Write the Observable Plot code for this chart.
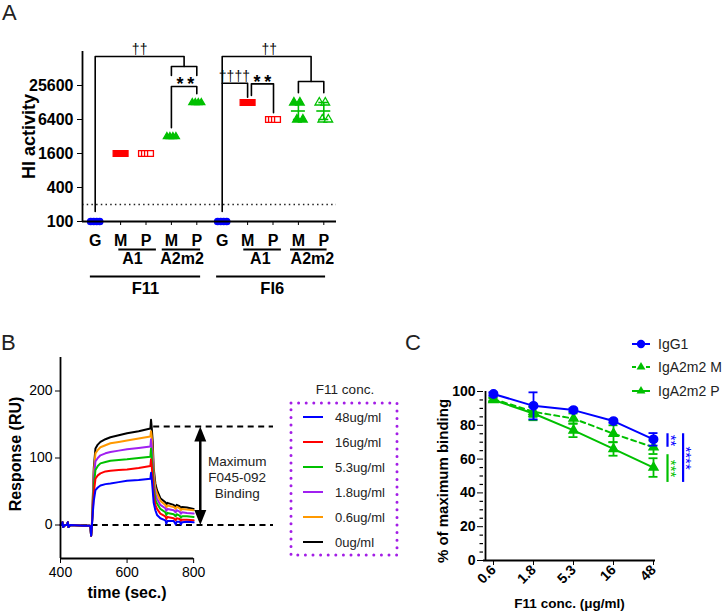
<!DOCTYPE html>
<html>
<head>
<meta charset="utf-8">
<script src="https://cdn.jsdelivr.net/npm/d3@7"></script>
<script src="https://cdn.jsdelivr.net/npm/@observablehq/plot@0.6"></script>
<style>
  html, body { margin: 0; padding: 0; background: #fff; }
  #wrap { position: relative; width: 723px; height: 616px; overflow: hidden; font-family: "Liberation Sans", Arial, Helvetica, sans-serif; }
  .panel { position: absolute; }
  .panel svg { overflow: visible; }
</style>
</head>
<body>
<div id="wrap"></div>
<script>
// ================= DATA =================
// Panel A : HI activity (log2 scale)
const hiPositions   = [1, 2, 3, 4, 5, 6, 7, 8, 9, 10];
const hiTickLabels  = ["G", "M", "P", "M", "P", "G", "M", "P", "M", "P"];
const hiColors      = ["#0000ff", "#ff0000", "#ff0000", "#00c000", "#00c000", "#0000ff", "#ff0000", "#ff0000", "#00c000", "#00c000"];
const hiSymbols     = ["circle", "square", "square", "triangle", "triangle", "circle", "square", "square", "triangle", "triangle"];
const hiOpen        = [false, false, true, false, false, false, false, true, false, true];
const hiReplicates  = [
  [100, 100, 100, 100],
  [1600, 1600, 1600, 1600],
  [1600, 1600, 1600, 1600],
  [3200, 3200, 3200, 3200],
  [12800, 12800, 12800, 12800],
  [100, 100, 100, 100],
  [12800, 12800, 12800, 12800],
  [6400, 6400, 6400, 6400],
  [12800, 6400, 12800, 6400],
  [12800, 6400, 12800, 6400]
];
const hiYTicks   = [100, 400, 1600, 6400, 25600];
const hiLimit    = [200];
const hiSummary  = [
  {pos: 9, mean: 9050, lo: 6400, hi: 12800},
  {pos: 10, mean: 9050, lo: 6400, hi: 12800}
];
const hiBrackets = [
  {id: "f11top",  pts: [[1, 150], [1, 83500], [4.5, 83500], [4.5, 55600]]},
  {id: "f11sub",  pts: [[4, 38500], [4, 55600], [5, 55600], [5, 38500]]},
  {id: "f11star", pts: [[4, 4560], [4, 24600], [5, 24600], [5, 18250]]},
  {id: "fi6top",  pts: [[6, 150], [6, 83500], [9.5, 83500], [9.5, 30100]]},
  {id: "fi6sub",  pts: [[9, 19000], [9, 30100], [10, 30100], [10, 19000]]},
  {id: "fi6dag",  pts: [[6, 28100], [7, 28100], [7, 15900]]},
  {id: "fi6star", pts: [[7.15, 17000], [7.15, 27400], [8.02, 27400], [8.02, 8410]]}
];
const hiDaggers  = [
  {x: 2.75, y: 83500, label: "††"},
  {x: 7.85, y: 83500, label: "††"},
  {x: 6.48, y: 28100, label: "††††"}
];
const hiStars    = [
  {x: 4.55, y: 24600, label: "*\u2009*"},
  {x: 7.58, y: 27400, label: "*\u2009*"}
];
const hiSubLines  = [{from: 1.93, to: 3.41}, {from: 3.64, to: 5.15}, {from: 6.85, to: 8.33}, {from: 8.69, to: 10.13}];
const hiSubLabels = [{x: 2.47, label: "A1"}, {x: 4.42, label: "A2m2"}, {x: 7.5, label: "A1"}, {x: 9.55, label: "A2m2"}];
const hiGroupLines  = [{from: 0.81, to: 5.15}, {from: 5.78, to: 10.07}];
const hiGroupLabels = [{x: 2.98, label: "F11"}, {x: 7.97, label: "FI6"}];

// Panel B : sensorgrams
const bConcLabels = ["48ug/ml", "16ug/ml", "5.3ug/ml", "1.8ug/ml", "0.6ug/ml", "0ug/ml"];
const bColors     = ["#0000ff", "#ff0000", "#00c000", "#a020f0", "#ff9900", "#000000"];
const bBaseTime   = [400, 404, 406, 408, 414, 420, 422, 424, 430, 470, 488, 490, 492, 494];
const bBaseValue  = [0, 0, 4, -3, 0, 0, 4, -3, 0, -1, -1, -3, -16, -4];
const bKinTime    = [497, 500, 505, 512, 520, 535, 550, 575, 600, 635, 670, 672, 674, 677, 680, 685, 690, 700, 715, 718, 721, 740, 746, 749, 758, 762, 765, 780, 800];
const bConc48  = [18, 36, 52, 56, 59, 61, 62, 64, 66, 67, 69, 78, 70, 52, 33, 22, 15, 10, 7, 2, 6, 6, 1, 5, 5, 1, 4, 5, 4];
const bConc16  = [22, 48, 69, 74, 77, 80, 81, 82, 83, 85, 88, 98, 89, 68, 44, 30, 24, 17, 13, 9, 12, 10, 7, 10, 9, 6, 8, 8, 7];
const bConc5_3 = [26, 58, 82, 88, 92, 94, 96, 97, 98, 100, 102, 114, 103, 82, 55, 38, 32, 24, 19, 15, 18, 16, 13, 16, 14, 11, 13, 13, 12];
const bConc1_8 = [30, 68, 95, 100, 104, 107, 109, 111, 113, 115, 117, 128, 118, 95, 65, 46, 39, 30, 25, 21, 24, 22, 19, 22, 20, 17, 19, 18, 17];
const bConc0_6 = [35, 78, 107, 112, 116, 119, 122, 124, 126, 129, 132, 140, 133, 110, 78, 55, 47, 36, 30, 26, 29, 27, 24, 27, 25, 22, 24, 23, 22];
const bConc0   = [40, 85, 114, 120, 124, 128, 131, 134, 137, 140, 144, 157, 146, 125, 85, 62, 52, 40, 34, 30, 33, 30, 27, 30, 28, 25, 27, 26, 24];
const bYTicks = [0, 100, 200];
const bXTicks = [400, 600, 800];
const bMaxBinding = 147;
const bArrowTime = 820;

// Panel C : % of maximum binding
const cConc    = ["0.6", "1.8", "5.3", "16", "48"];
const cSeries  = ["IgG1", "IgA2m2 M", "IgA2m2 P"];
const cIgG1    = [98.5, 91.5, 89, 82.5, 71.7];
const cIgG1Err = [1, 8, 1, 1, 3.7];
const cA2m2M    = [95.5, 88, 84, 75, 67];
const cA2m2MErr = [1, 3, 3, 5, 4];
const cA2m2P    = [95, 87, 77, 66, 55];
const cA2m2PErr = [1, 4, 4, 4, 5.5];
const cYTicks  = [0, 20, 40, 60, 80, 100];
const cMinorTicks = [5, 10, 15, 25, 30, 35, 45, 50, 55, 65, 70, 75, 85, 90, 95];
const cSigShortBlue = [{y1: 75, y2: 67, label: "**"}];
const cSigGreen     = [{y1: 62.6, y2: 46.2, label: "***"}];
const cSigLongBlue  = [{y1: 75, y2: 46.2, label: "****"}];

// ================= RENDER =================
const FONT = '"Liberation Sans", Arial, Helvetica, sans-serif';
const BLUE = "#0000ff", GREEN = "#00c000";
const wrap = document.getElementById("wrap");
function place(node, left, top) {
  const d = document.createElement("div");
  d.className = "panel";
  d.style.left = left + "px";
  d.style.top = top + "px";
  d.appendChild(node);
  wrap.appendChild(d);
}

// ---------- Panel A ----------
const repOffsets = [-4.5, -1.5, 1.5, 4.5];
const hiRows = [];
hiReplicates.forEach((reps, g) => reps.forEach((v, r) => hiRows.push({
  pos: hiPositions[g], value: v, rep: r, color: hiColors[g], symbol: hiSymbols[g], open: hiOpen[g],
  size: (g === 8 || g === 9) ? 3.2 : (hiSymbols[g] === "square" ? 3.3 : (hiSymbols[g] === "triangle" ? 2.6 : 3.2))
})));
const bracketRows = hiBrackets.flatMap(b => b.pts.map(p => ({id: b.id, x: p[0], y: p[1]})));

const repMarks = repOffsets.map((off, r) => Plot.dot(hiRows.filter(d => d.rep === r), {
  x: "pos", y: "value", dx: off, symbol: "symbol", r: "size",
  fill: d => d.open ? "#ffffff" : d.color, stroke: "color", strokeWidth: 1.3
}));

const plotA = Plot.plot({
  width: 345, height: 330,
  marginLeft: 82, marginRight: 9, marginTop: 51, marginBottom: 109,
  style: {fontFamily: FONT, fontSize: "16px", fontWeight: "bold", color: "#000", background: "transparent", overflow: "visible"},
  x: {domain: [0.5, 10.5], ticks: hiPositions, tickFormat: i => hiTickLabels[i - 1], tickSize: 4, tickPadding: 9, label: null},
  y: {type: "log", base: 2, domain: [100, 102400], ticks: hiYTicks, tickFormat: d => String(d), tickSize: 5, tickPadding: 4, label: null},
  r: {type: "identity"},
  marks: [
    Plot.ruleY(hiLimit, {stroke: "#222", strokeWidth: 1.3, strokeDasharray: "1.5,3.2"}),
    Plot.line(bracketRows, {x: "x", y: "y", z: "id", stroke: "#000", strokeWidth: 1.6}),
    Plot.text(hiDaggers, {x: "x", y: "y", text: "label", dy: -7, fontSize: 14, fontWeight: "normal", fill: "#000", fillOpacity: 0.99}),
    Plot.text(hiStars, {x: "x", y: "y", text: "label", dy: -2, fontSize: 18, fontWeight: "bold", fill: "#000"}),
    ...repMarks,
    Plot.ruleX(hiSummary, {x: "pos", y1: "lo", y2: "hi", stroke: GREEN, strokeWidth: 1.6}),
    Plot.ruleY(hiSummary, {x1: "pos", x2: "pos", y: "mean", stroke: GREEN, strokeWidth: 1.6, insetLeft: -7, insetRight: -7}),
    Plot.ruleY(hiSummary, {x1: "pos", x2: "pos", y: "lo", stroke: GREEN, strokeWidth: 1.6, insetLeft: -5, insetRight: -5}),
    Plot.ruleY(hiSummary, {x1: "pos", x2: "pos", y: "hi", stroke: GREEN, strokeWidth: 1.6, insetLeft: -5, insetRight: -5}),
    Plot.ruleX([0.5], {stroke: "#000", strokeWidth: 1.8}),
    Plot.ruleY([100], {stroke: "#000", strokeWidth: 1.8}),
    Plot.ruleY(hiSubLines, {x1: "from", x2: "to", y: () => 100, dy: 28, stroke: "#000", strokeWidth: 1.8}),
    Plot.text(hiSubLabels, {x: "x", frameAnchor: "bottom", dy: 42, text: "label", fontSize: 16, fontWeight: "bold", fill: "#000"}),
    Plot.ruleY(hiGroupLines, {x1: "from", x2: "to", y: () => 100, dy: 55, stroke: "#000", strokeWidth: 1.8}),
    Plot.text(hiGroupLabels, {x: "x", frameAnchor: "bottom", dy: 72, text: "label", fontSize: 16.5, fontWeight: "bold", fill: "#000"}),
    Plot.text(["HI activity"], {frameAnchor: "left", textAnchor: "middle", dx: -53, rotate: -90, text: d => d, fontSize: 18, fontWeight: "bold", fill: "#000"})
  ]
});
place(plotA, 0, 0);

// ---------- Panel B ----------
const bSeries = [bConc48, bConc16, bConc5_3, bConc1_8, bConc0_6, bConc0];
const bRows = [];
bConcLabels.forEach((c, i) => {
  bBaseTime.forEach((t, j) => bRows.push({t, v: bBaseValue[j], conc: c, color: bColors[i]}));
  bKinTime.forEach((t, j) => bRows.push({t, v: bSeries[i][j], conc: c, color: bColors[i]}));
});
const bLineMarks = bConcLabels.slice().reverse().map(c => Plot.line(bRows.filter(d => d.conc === c), {
  x: "t", y: "v", stroke: "color", strokeWidth: 2, curve: "linear"
}));
const headUp = {draw(ctx) { ctx.moveTo(0, 0); ctx.lineTo(6, 15); ctx.lineTo(-6, 15); ctx.closePath(); }};
const headDown = {draw(ctx) { ctx.moveTo(0, 0); ctx.lineTo(6, -15); ctx.lineTo(-6, -15); ctx.closePath(); }};

const plotB = Plot.plot({
  width: 290, height: 286,
  marginLeft: 60, marginRight: 17, marginTop: 27, marginBottom: 58,
  style: {fontFamily: FONT, fontSize: "14px", fontWeight: "normal", color: "#000", background: "transparent", overflow: "visible"},
  x: {domain: [400, 1040], ticks: bXTicks, tickSize: 5, tickPadding: 4, label: null},
  y: {domain: [-50, 250], ticks: bYTicks, tickSize: 5, tickPadding: 3, label: null},
  marks: [
    Plot.ruleY([0], {x1: () => 400, x2: () => 1040, stroke: "#000", strokeWidth: 1.8, strokeDasharray: "6,4.5"}),
    Plot.ruleY([bMaxBinding], {x1: () => 680, x2: () => 1040, stroke: "#000", strokeWidth: 1.8, strokeDasharray: "6,4.5"}),
    ...bLineMarks,
    Plot.ruleX([bArrowTime], {y1: () => 8, y2: () => bMaxBinding - 8, stroke: "#000", strokeWidth: 2.5}),
    Plot.dot([bMaxBinding], {x: () => bArrowTime, y: d => d, symbol: headUp, fill: "#000", stroke: "none"}),
    Plot.dot([0], {x: () => bArrowTime, y: d => d, symbol: headDown, fill: "#000", stroke: "none"}),
    Plot.text(["Maximum\nF045-092\nBinding"], {x: () => 931, y: () => 72, text: d => d, fontSize: 13.5, lineHeight: 1.2, fill: "#222"}),
    Plot.ruleX([400], {stroke: "#000", strokeWidth: 1.8}),
    Plot.ruleY([-50], {x1: () => 400, x2: () => 800, stroke: "#000", strokeWidth: 1.8}),
    Plot.text(["time (sec.)"], {x: () => 600, frameAnchor: "bottom", dy: 39, text: d => d, fontSize: 16, fontWeight: "bold", fill: "#000"}),
    Plot.text(["Response (RU)"], {frameAnchor: "left", textAnchor: "middle", dx: -45, dy: -4, rotate: -90, text: d => d, fontSize: 16, fontWeight: "bold", fill: "#000"})
  ]
});
place(plotB, 0, 330);

// Legend B
const legB = d3.create("svg").attr("width", 140).attr("height", 200)
  .style("font-family", FONT);
legB.append("text").attr("x", 65).attr("y", 17).attr("text-anchor", "middle")
  .attr("dominant-baseline", "central").attr("font-size", 13.5).attr("fill", "#222").text("F11 conc.");
legB.append("rect").attr("x", 11).attr("y", 31).attr("width", 106).attr("height", 152)
  .attr("fill", "none").attr("stroke", "#a31ee6").attr("stroke-width", 3)
  .attr("stroke-dasharray", "0 7.6").attr("stroke-linecap", "round");
bConcLabels.forEach((c, i) => {
  const y = 45 + i * 25;
  legB.append("line").attr("x1", 23).attr("x2", 43).attr("y1", y).attr("y2", y)
    .attr("stroke", bColors[i]).attr("stroke-width", 2);
  legB.append("text").attr("x", 55).attr("y", y).attr("dominant-baseline", "central")
    .attr("font-size", 13).attr("fill", "#222").text(c);
});
place(legB.node(), 280, 372);

// ---------- Panel C ----------
const cMeans = [cIgG1, cA2m2M, cA2m2P];
const cErrs = [cIgG1Err, cA2m2MErr, cA2m2PErr];
const cColors = [BLUE, GREEN, GREEN];
const cRows = [];
cSeries.forEach((s, si) => cConc.forEach((c, i) => cRows.push({
  series: s, conc: c, v: cMeans[si][i], lo: cMeans[si][i] - cErrs[si][i], hi: cMeans[si][i] + cErrs[si][i], color: cColors[si]
})));
const bySeries = s => cRows.filter(d => d.series === s);
function errMarks(rows) {
  return [
    Plot.ruleX(rows, {x: "conc", y1: "lo", y2: "hi", stroke: "color", strokeWidth: 1.8}),
    Plot.ruleY(rows, {x1: "conc", x2: "conc", y: "lo", stroke: "color", strokeWidth: 1.8, insetLeft: -4.5, insetRight: -4.5}),
    Plot.ruleY(rows, {x1: "conc", x2: "conc", y: "hi", stroke: "color", strokeWidth: 1.8, insetLeft: -4.5, insetRight: -4.5})
  ];
}
const plotC = Plot.plot({
  width: 323, height: 286,
  marginLeft: 83, marginRight: 68, marginTop: 61, marginBottom: 56,
  style: {fontFamily: FONT, fontSize: "14px", fontWeight: "bold", color: "#000", background: "transparent", overflow: "visible"},
  x: {type: "point", domain: cConc, padding: 0, insetLeft: 8, insetRight: 1, tickRotate: -45, tickSize: 5, tickPadding: 2, label: null},
  y: {domain: [0, 100], ticks: cYTicks, tickSize: 6, tickPadding: 2, label: null},
  marks: [
    Plot.ruleY(cMinorTicks, {insetLeft: -3.5, insetRight: 172, stroke: "#000", strokeWidth: 1.2}),
    ...errMarks(bySeries("IgA2m2 P")),
    ...errMarks(bySeries("IgA2m2 M")),
    Plot.line(bySeries("IgA2m2 P"), {x: "conc", y: "v", stroke: GREEN, strokeWidth: 2}),
    Plot.line(bySeries("IgA2m2 M"), {x: "conc", y: "v", stroke: GREEN, strokeWidth: 2, strokeDasharray: "5,4"}),
    Plot.dot(bySeries("IgA2m2 P"), {x: "conc", y: "v", symbol: "triangle", r: 3.3, fill: GREEN, stroke: GREEN}),
    Plot.dot(bySeries("IgA2m2 M"), {x: "conc", y: "v", symbol: "triangle", r: 3.3, fill: GREEN, stroke: GREEN}),
    ...errMarks(bySeries("IgG1")),
    Plot.line(bySeries("IgG1"), {x: "conc", y: "v", stroke: BLUE, strokeWidth: 2}),
    Plot.dot(bySeries("IgG1"), {x: "conc", y: "v", r: 4.2, fill: BLUE, stroke: BLUE}),
    Plot.ruleX(cSigShortBlue, {x: () => "48", y1: "y1", y2: "y2", dx: 14, stroke: BLUE, strokeWidth: 2.2}),
    Plot.ruleX(cSigGreen, {x: () => "48", y1: "y1", y2: "y2", dx: 14, stroke: GREEN, strokeWidth: 2.2}),
    Plot.ruleX(cSigLongBlue, {x: () => "48", y1: "y1", y2: "y2", dx: 29.6, stroke: BLUE, strokeWidth: 2.2}),
    Plot.text(cSigShortBlue, {x: () => "48", y: d => (d.y1 + d.y2) / 2, text: "label", dx: 17, rotate: 90, fontSize: 15, fontWeight: "normal", fill: BLUE}),
    Plot.text(cSigGreen, {x: () => "48", y: d => (d.y1 + d.y2) / 2, text: "label", dx: 17, rotate: 90, fontSize: 15, fontWeight: "normal", fill: GREEN}),
    Plot.text(cSigLongBlue, {x: () => "48", y: d => (d.y1 + d.y2) / 2, text: "label", dx: 32.5, rotate: 90, fontSize: 15, fontWeight: "normal", fill: BLUE}),
    Plot.ruleX([cConc[0]], {dx: -8, stroke: "#000", strokeWidth: 1.8}),
    Plot.ruleY([0], {stroke: "#000", strokeWidth: 1.8}),
    Plot.text(["F11 conc. (μg/ml)"], {frameAnchor: "bottom", dy: 47, text: d => d, fontSize: 13.5, fontWeight: "bold", fill: "#000"}),
    Plot.text(["% of maximum binding"], {frameAnchor: "left", textAnchor: "middle", dx: -40, dy: 5, rotate: -90, text: d => d, fontSize: 15, fontWeight: "bold", fill: "#000"})
  ]
});
place(plotC, 400, 330);

// Legend C
const legC = d3.create("svg").attr("width", 103).attr("height", 75).style("font-family", FONT);
const legCY = [14, 37, 61];
cSeries.forEach((s, i) => {
  const y = legCY[i];
  legC.append("line").attr("x1", 12).attr("x2", 30).attr("y1", y).attr("y2", y)
    .attr("stroke", cColors[i]).attr("stroke-width", 2)
    .attr("stroke-dasharray", s === "IgA2m2 M" ? "4,3" : null);
  if (i === 0) {
    legC.append("circle").attr("cx", 21).attr("cy", y).attr("r", 4.2).attr("fill", BLUE);
  } else {
    legC.append("path").attr("d", d3.symbol(d3.symbolTriangle, 34)()).attr("transform", `translate(21,${y})`).attr("fill", GREEN);
  }
  legC.append("text").attr("x", 38).attr("y", y).attr("dominant-baseline", "central")
    .attr("font-size", 14).attr("fill", "#222").text(s);
});
place(legC.node(), 620, 330);

// Panel letters
const letters = d3.create("svg").attr("width", 723).attr("height", 616).style("font-family", FONT).style("pointer-events", "none");
[["A", 2, 20], ["B", 1, 350], ["C", 405, 350]].forEach(([t, x, y]) =>
  letters.append("text").attr("x", x).attr("y", y).attr("font-size", 22).attr("fill", "#222").text(t));
place(letters.node(), 0, 0);
</script>
</body>
</html>
